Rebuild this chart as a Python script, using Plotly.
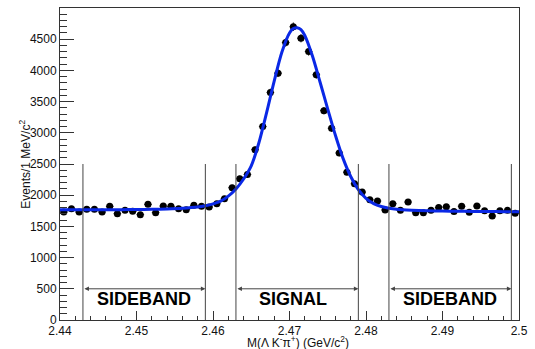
import plotly.graph_objects as go

# ---- data ----
bin_centers = [round(2.4405 + 0.001 * i, 4) for i in range(60)]
counts = [1730, 1784, 1730, 1773, 1773, 1730, 1821, 1704, 1757, 1741,
          1688, 1853, 1720, 1826, 1821, 1784, 1768, 1837, 1821, 1810,
          1864, 1944, 2120, 2264, 2332, 2730, 3099, 3647, 3956, 4446,
          4700, 4516, 4302, 3930, 3355, 3072, 2676, 2369, 2183, 2050,
          1928, 1906, 1763, 1864, 1757, 1890, 1720, 1717, 1757, 1802,
          1815, 1738, 1823, 1725, 1826, 1751, 1666, 1751, 1757, 1712]

fit_x = [2.440, 2.442, 2.444, 2.446, 2.448, 2.450, 2.452, 2.454, 2.456, 2.458,
         2.459, 2.460, 2.461, 2.462, 2.463, 2.464, 2.465, 2.466, 2.467, 2.468,
         2.469, 2.470, 2.4705, 2.471, 2.4715, 2.472, 2.473, 2.474, 2.475, 2.476,
         2.477, 2.478, 2.479, 2.480, 2.481, 2.482, 2.483, 2.484, 2.486, 2.488,
         2.490, 2.492, 2.494, 2.496, 2.498, 2.500]
fit_y = [1765, 1765, 1766, 1767, 1768, 1770, 1774, 1780, 1790, 1810,
         1830, 1860, 1905, 1985, 2100, 2260, 2470, 2840, 3320, 3830,
         4290, 4600, 4670, 4685, 4655, 4560, 4230, 3810, 3380, 2960,
         2590, 2300, 2090, 1950, 1865, 1818, 1792, 1776, 1760, 1750,
         1745, 1742, 1740, 1738, 1736, 1734]

region_edges = [2.443, 2.459, 2.463, 2.479, 2.483, 2.499]
region_labels = ["SIDEBAND", "SIGNAL", "SIDEBAND"]
region_label_x = [2.451, 2.4705, 2.491]
arrow_level = 500
line_top = 2500
label_level = 335

x_tickvals = [2.44, 2.45, 2.46, 2.47, 2.48, 2.49, 2.50]
x_ticktext = ["2.44", "2.45", "2.46", "2.47", "2.48", "2.49", "2.5"]
y_tickvals = [0, 500, 1000, 1500, 2000, 2500, 3000, 3500, 4000, 4500]

FONT = "Liberation Sans, Arial, Helvetica, sans-serif"
FRAME = "#333333"

fig = go.Figure()

fig.add_trace(go.Scatter(
    x=bin_centers, y=counts, mode="markers",
    marker=dict(color="black", size=7, symbol="circle"),
    error_y=dict(type="sqrt", color="#222222", thickness=1, width=0),
    error_x=dict(type="constant", value=0.0005, color="#222222", thickness=1, width=0),
    showlegend=False, hoverinfo="x+y"))

fig.add_trace(go.Scatter(
    x=fit_x, y=fit_y, mode="lines", line=dict(color="#0a28e6", width=3, shape="spline", smoothing=0.8),
    showlegend=False, hoverinfo="skip"))

shapes = []
for e in region_edges:
    shapes.append(dict(type="line", xref="x", yref="y", x0=e, x1=e, y0=0, y1=line_top,
                       line=dict(color="#444444", width=1)))
fig.update_layout(shapes=shapes)

annotations = []
for i in range(3):
    a, b = region_edges[2 * i], region_edges[2 * i + 1]
    annotations.append(dict(x=b, y=arrow_level, ax=a, ay=arrow_level, xref="x", yref="y",
                            axref="x", ayref="y", showarrow=True, arrowside="end+start",
                            arrowhead=2, arrowsize=0.9, arrowwidth=1, arrowcolor="#444444",
                            text=""))
    annotations.append(dict(x=region_label_x[i], y=label_level, xref="x", yref="y",
                            text="<b>%s</b>" % region_labels[i], showarrow=False,
                            font=dict(family=FONT, size=18, color="black"),
                            xanchor="center", yanchor="middle"))

annotations.append(dict(x=0.5, xref="paper", y=-0.072, yref="paper",
                        text="M(Λ K<sup>-</sup>π<sup>+</sup>) (GeV/c<sup>2</sup>)",
                        showarrow=False, xanchor="center", yanchor="middle", xshift=8,
                        font=dict(family=FONT, size=12, color="#111111")))
annotations.append(dict(x=-0.077, xref="paper", y=0.5, yref="paper",
                        text="Events/1 MeV/c<sup>2</sup>", textangle=-90,
                        showarrow=False, xanchor="center", yanchor="middle",
                        font=dict(family=FONT, size=12, color="#111111")))
fig.update_layout(annotations=annotations)

fig.update_xaxes(range=[2.44, 2.50], tickvals=x_tickvals, ticktext=x_ticktext,
                 ticks="inside", ticklen=9, tickcolor=FRAME, tickwidth=1,
                 minor=dict(dtick=0.002, tick0=2.44, ticks="inside", ticklen=4, tickcolor=FRAME),
                 showline=True, linecolor=FRAME, linewidth=1, mirror=True,
                 showgrid=False, zeroline=False,
                 tickfont=dict(family=FONT, size=12, color="#111111"))
fig.update_yaxes(range=[0, 5000], tickvals=y_tickvals,
                 ticks="inside", ticklen=14, tickcolor=FRAME, tickwidth=1,
                 minor=dict(dtick=100, tick0=0, ticks="inside", ticklen=7, tickcolor=FRAME),
                 showline=True, linecolor=FRAME, linewidth=1, mirror=True,
                 showgrid=False, zeroline=False,
                 tickfont=dict(family=FONT, size=12, color="#111111"))

fig.update_layout(width=535, height=349, margin=dict(l=60, r=10, t=7, b=29),
                  paper_bgcolor="white", plot_bgcolor="white")

fig.write_html("out.html")
